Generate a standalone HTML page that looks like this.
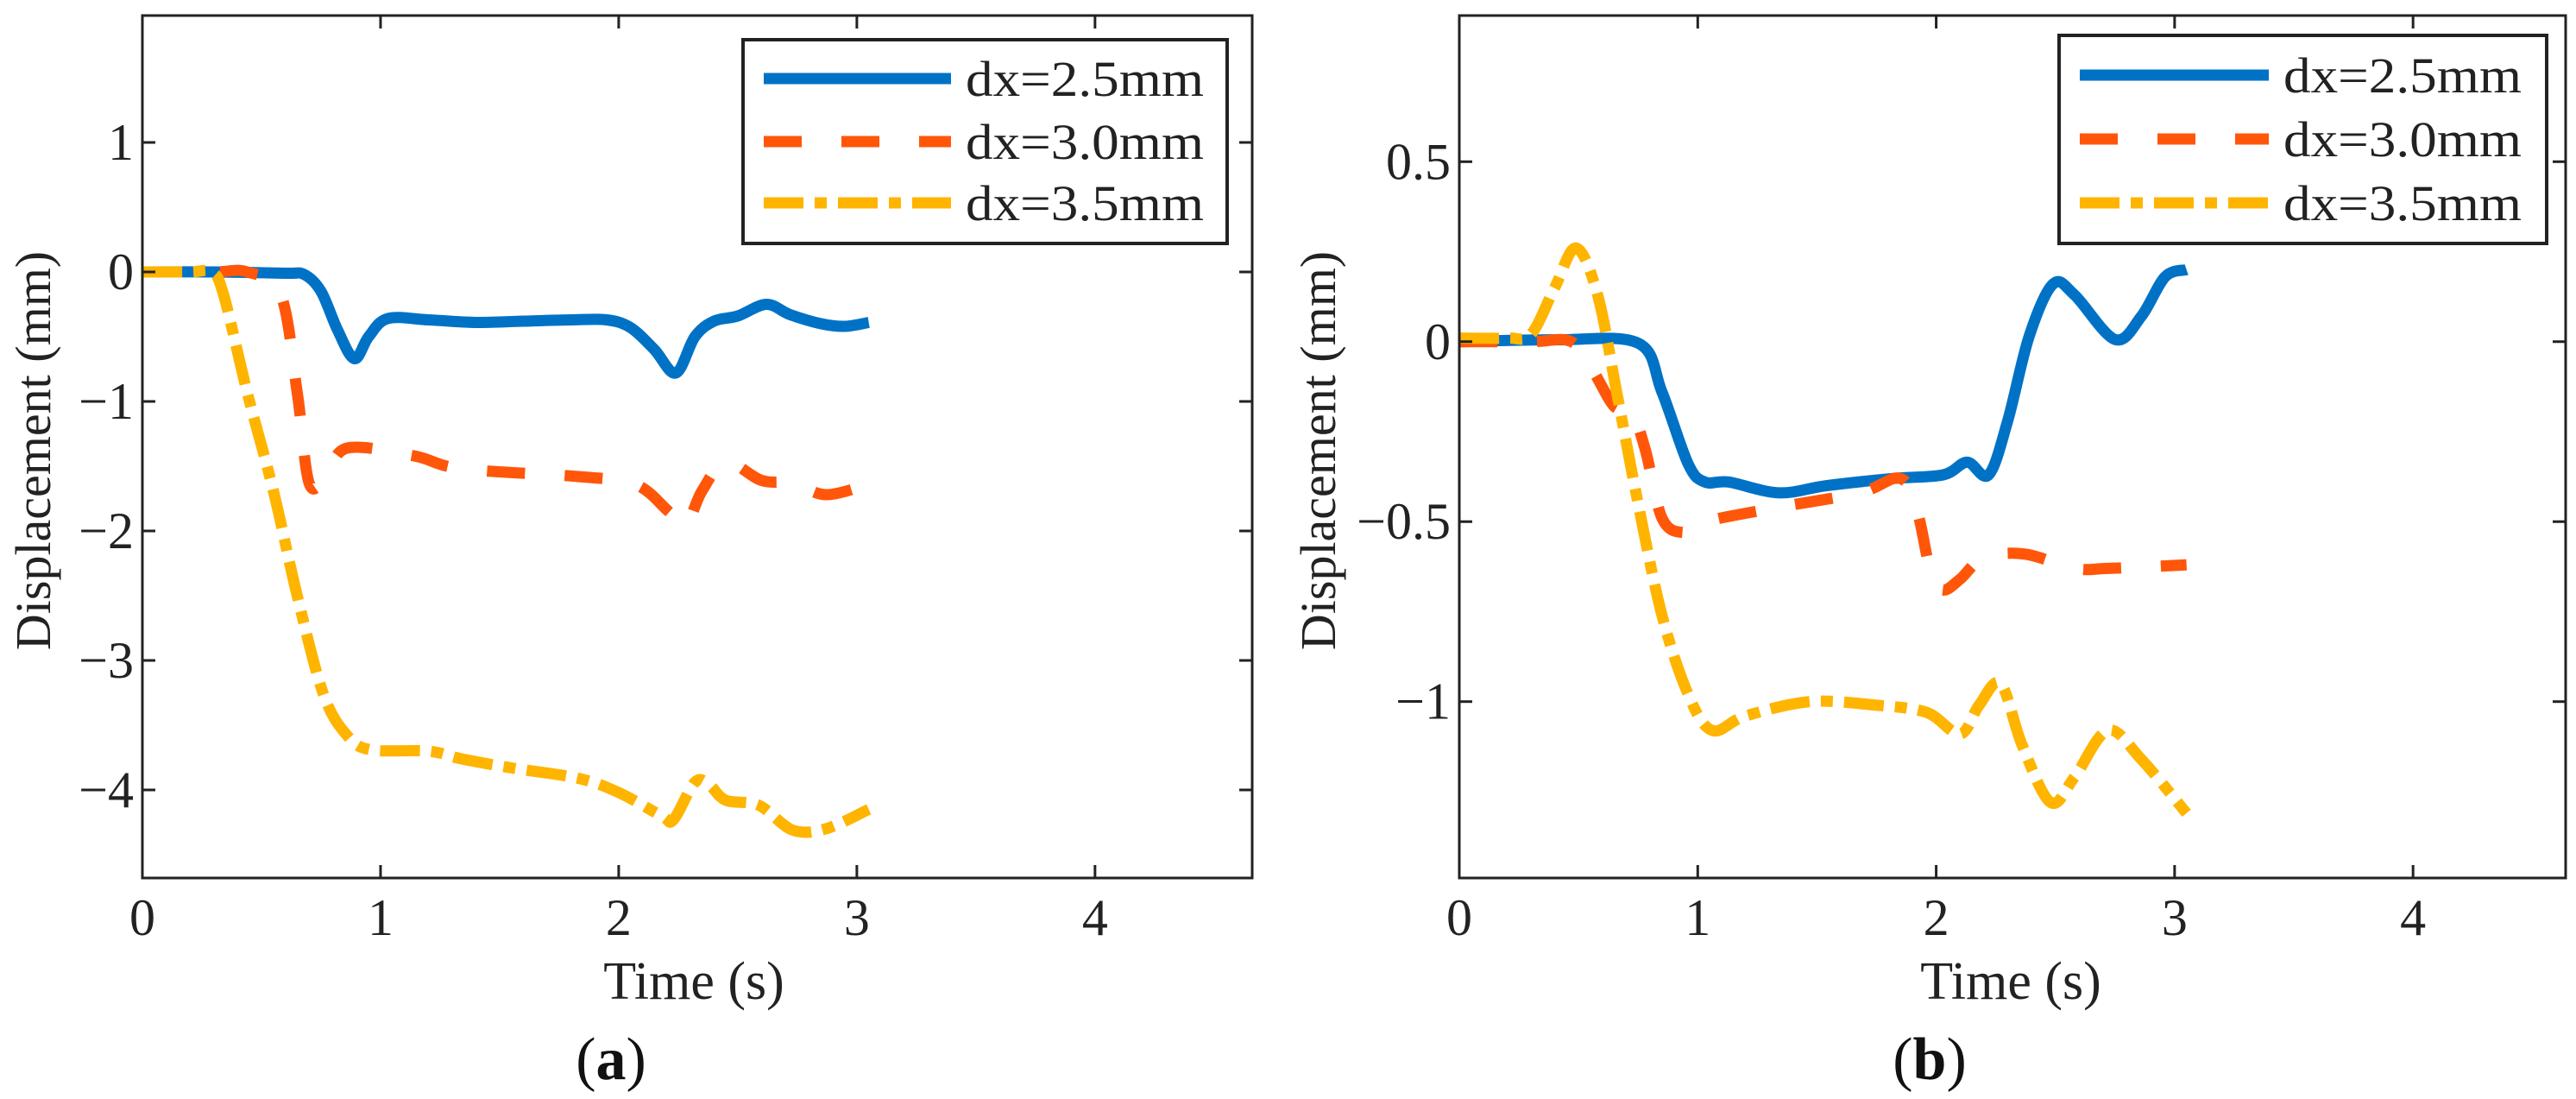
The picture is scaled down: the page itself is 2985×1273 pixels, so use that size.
<!DOCTYPE html>
<html><head><meta charset="utf-8"><style>
html,body{margin:0;padding:0;background:#fff;overflow:hidden;}
svg{display:block;}
text{font-family:"Liberation Serif","DejaVu Serif",serif;}
</style></head><body>
<svg id="fig" width="2985" height="1273" viewBox="0 0 2985 1273" xmlns="http://www.w3.org/2000/svg"></svg>
<script>
// ---- Panel (a) data ----
const aBlueT=[0,0.3,0.6,0.68,0.75,0.82,0.89,0.95,1.03,1.2,1.4,1.6,1.8,1.95,2.05,2.15,2.24,2.32,2.4,2.5,2.62,2.72,2.85,2.95,3.05];
const aBlueV=[0,0,-0.01,-0.02,-0.15,-0.45,-0.67,-0.5,-0.36,-0.37,-0.39,-0.38,-0.37,-0.37,-0.43,-0.6,-0.78,-0.5,-0.38,-0.34,-0.25,-0.33,-0.4,-0.42,-0.39];
const aOrT=[0,0.3,0.44,0.58,0.65,0.7,0.77,0.86,1.14,1.34,1.83,2.07,2.21,2.28,2.35,2.45,2.6,2.73,2.87,3.05];
const aOrV=[0,0,0,-0.17,-0.93,-1.63,-1.58,-1.36,-1.42,-1.52,-1.58,-1.64,-1.85,-1.96,-1.69,-1.47,-1.61,-1.63,-1.72,-1.64];
const aYeT=[0,0.2,0.29,0.34,0.44,0.55,0.65,0.76,0.86,0.96,1.2,1.34,1.55,1.83,2.0,2.18,2.23,2.32,2.38,2.45,2.59,2.73,2.87,3.05];
const aYeV=[0,0,0,-0.17,-0.93,-1.69,-2.5,-3.26,-3.58,-3.69,-3.7,-3.76,-3.83,-3.91,-4.02,-4.2,-4.23,-3.94,-3.96,-4.08,-4.12,-4.31,-4.3,-4.15];
// ---- Panel (b) data ----
const bBlueT=[0,0.4,0.75,0.85,0.96,1.03,1.13,1.34,1.54,1.82,2.03,2.13,2.22,2.3,2.39,2.49,2.58,2.75,2.86,2.96,3.05];
const bBlueV=[0,0.005,-0.004,-0.14,-0.34,-0.39,-0.39,-0.42,-0.4,-0.38,-0.37,-0.335,-0.37,-0.22,0.015,0.16,0.13,0.006,0.07,0.18,0.2];
const bOrT=[0,0.3,0.47,0.56,0.65,0.72,0.78,0.85,0.94,1.03,1.34,1.68,1.85,1.92,1.98,2.03,2.1,2.2,2.37,2.58,2.72,3.05];
const bOrV=[0,0,0,-0.08,-0.18,-0.19,-0.3,-0.49,-0.53,-0.5,-0.46,-0.42,-0.38,-0.47,-0.65,-0.69,-0.66,-0.6,-0.59,-0.63,-0.63,-0.62];
const bYeT=[0,0.2,0.3,0.4,0.49,0.58,0.66,0.75,0.85,0.96,1.06,1.2,1.47,1.75,1.96,2.1,2.18,2.27,2.36,2.48,2.58,2.72,2.86,3.05];
const bYeV=[0.01,0.01,0.02,0.15,0.26,0.13,-0.14,-0.45,-0.76,-0.98,-1.08,-1.04,-1.0,-1.01,-1.03,-1.09,-1.01,-0.95,-1.12,-1.28,-1.21,-1.08,-1.16,-1.31];
const xTicks=[0,1,2,3,4];
const aYTicks=[1,0,-1,-2,-3,-4];
const bYTicks=[0.5,0,-0.5,-1];
const legendLabels=["dx=2.5mm","dx=3.0mm","dx=3.5mm"];

const NS="http://www.w3.org/2000/svg";
const svg=document.getElementById('fig');
function mk(tag,attrs,parent){const e=document.createElementNS(NS,tag);for(const k in attrs)e.setAttribute(k,attrs[k]);(parent||svg).appendChild(e);return e;}
const colors=["#0072C6","#FF560A","#FFB400"];
const dashes=["none","44 46","46 13 14 13"];
const FF='"Liberation Serif","DejaVu Serif",serif';
function smooth(pts){let d=`M${pts[0][0]},${pts[0][1]}`;for(let i=0;i<pts.length-1;i++){const p0=pts[Math.max(0,i-1)],p1=pts[i],p2=pts[i+1],p3=pts[Math.min(pts.length-1,i+2)];const c1=[p1[0]+(p2[0]-p0[0])/6,p1[1]+(p2[1]-p0[1])/6],c2=[p2[0]-(p3[0]-p1[0])/6,p2[1]-(p3[1]-p1[1])/6];d+=`C${c1[0]},${c1[1]} ${c2[0]},${c2[1]} ${p2[0]},${p2[1]}`;}return d;}
function fmt(v){return v<0?'\u2212'+Math.abs(v):String(v);}

function panel(cfg){
  const g=mk('g',{});
  
  
  const X=t=>cfg.L+t/cfg.xmax*(cfg.R-cfg.L);
  const Y=v=>cfg.T+(cfg.ymax-v)/(cfg.ymax-cfg.ymin)*(cfg.B-cfg.T);
  cfg.series.forEach((s,i)=>{
    const pts=s[0].map((t,j)=>[X(t),Y(s[1][j])]);
    const p=mk('path',{d:smooth(pts),fill:'none',stroke:colors[i],'stroke-width':13,'stroke-dasharray':dashes[i],'stroke-linejoin':'round'},g);
    
    
  });
  const box=mk('rect',{x:cfg.L,y:cfg.T,width:cfg.R-cfg.L,height:cfg.B-cfg.T,fill:'none',stroke:'#222','stroke-width':3},g);
  
  
  xTicks.forEach(t=>{
    const x=X(t);
    mk('line',{x1:x,x2:x,y1:cfg.B,y2:cfg.B-15,stroke:'#222','stroke-width':3},g);
    mk('line',{x1:x,x2:x,y1:cfg.T,y2:cfg.T+15,stroke:'#222','stroke-width':3},g);
    const tx=mk('text',{x:x,y:cfg.B+66,'font-size':60,'text-anchor':'middle',fill:'#222','font-family':FF},g);
    tx.textContent=t;
    
    
  });
  cfg.yTicks.forEach(v=>{
    const y=Y(v);
    mk('line',{x1:cfg.L,x2:cfg.L+15,y1:y,y2:y,stroke:'#222','stroke-width':3},g);
    mk('line',{x1:cfg.R,x2:cfg.R-15,y1:y,y2:y,stroke:'#222','stroke-width':3},g);
    const ty=mk('text',{x:cfg.L-10,y:y+20,'font-size':60,'text-anchor':'end',fill:'#222','font-family':FF},g);
    ty.textContent=fmt(v);
    
    
  });
  const xl=mk('text',{x:cfg.xlX,y:1157,'font-size':62,'text-anchor':'middle',fill:'#222','font-family':FF},g);
  xl.textContent='Time (s)';
  
  
  const yl=mk('text',{x:0,y:0,'font-size':58,'text-anchor':'middle',fill:'#222','font-family':FF,transform:`translate(${cfg.ylX},522) rotate(-90)`},g);
  yl.textContent='Displacement (mm)';
  
  
  const cap=mk('text',{x:cfg.capX,y:1250,'font-size':70,'text-anchor':'middle',fill:'#111','font-family':FF},g);
  cap.innerHTML='(<tspan font-weight="bold">'+cfg.cap+'</tspan>)';
  
  
  const lg=mk('g',{},g);
  
  
  mk('rect',{x:cfg.lg[0],y:cfg.lg[1],width:cfg.lg[2],height:cfg.lg[3],fill:'#fff',stroke:'#222','stroke-width':4},lg);
  legendLabels.forEach((lab,i)=>{
    const y=cfg.lgRows[i];
    const e=mk('g',{},lg);
    
    
    mk('line',{x1:cfg.lgLine[0],x2:cfg.lgLine[1],y1:y,y2:y,stroke:colors[i],'stroke-width':13,'stroke-dasharray':dashes[i]},e);
    const t=mk('text',{x:cfg.lgLine[1]+17,y:y+20,'font-size':58,fill:'#222','font-family':FF,textLength:276,lengthAdjust:'spacingAndGlyphs'},e);
    t.textContent=lab;
  });
}
panel({name:'panel-a',L:165,R:1451,T:18,B:1017,xmax:4.66,ymax:1.98,ymin:-4.68,yTicks:aYTicks,
  series:[[aBlueT,aBlueV],[aOrT,aOrV],[aYeT,aYeV]],xlX:804,ylX:58,capX:708,cap:'a',
  lg:[861,46,561,236],lgRows:[91,164,235],lgLine:[885,1102]});
panel({name:'panel-b',L:1691,R:2973,T:18,B:1017,xmax:4.64,ymax:0.906,ymin:-1.49,yTicks:bYTicks,
  series:[[bBlueT,bBlueV],[bOrT,bOrV],[bYeT,bYeV]],xlX:2330,ylX:1547,capX:2236,cap:'b',
  lg:[2386,41,565,241],lgRows:[87,161,235],lgLine:[2410,2629]});
</script>
</body></html>
